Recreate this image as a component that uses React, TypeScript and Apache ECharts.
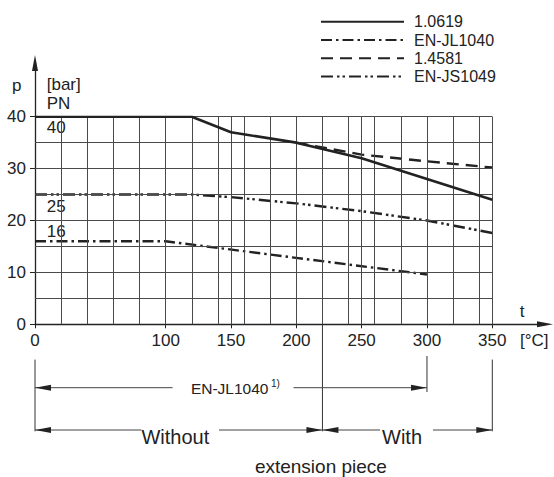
import React, { useEffect, useRef } from 'react';
import * as echarts from 'echarts';

// ---- data ----
const SERIES_NAMES = ['1.0619', 'EN-JL1040', '1.4581', 'EN-JS1049'];
const T_10619 = [0, 120, 150, 200, 250, 300, 350];
const P_10619 = [40, 40, 37, 35, 32, 28, 24];
const T_JL1040 = [0, 100, 200, 300];
const P_JL1040 = [16, 16, 12.8, 9.6];
const T_14581 = [200, 250, 300, 350];
const P_14581 = [35, 32.7, 31.4, 30.2];
const T_JS1049 = [0, 120, 150, 200, 250, 300, 350];
const P_JS1049 = [25, 25, 24.5, 23.3, 21.8, 20, 17.6];

const X_TICKS = [0, 100, 150, 200, 250, 300, 350];
const Y_TICKS = [0, 10, 20, 30, 40];
const GRID_T = [20, 40, 60, 80, 100, 120, 140, 150, 160, 180, 200, 220, 240, 250, 260, 280, 300, 320, 340, 350];
const GRID_P = [5, 10, 15, 20, 25, 30, 35, 40];
const PN_LABELS = ['40', '25', '16'];
const PN_VALUES = [40, 25, 16];

const FONT = '"Liberation Sans", Arial, sans-serif';
const INK = '#222';
const GRIDC = '#4a4a4a';

const pts = (t: number[], p: number[]) => t.map((v, i) => [v, p[i]]);

export default function App() {
  const ref = useRef<HTMLDivElement>(null);
  useEffect(() => {
    if (!ref.current) return;
    const chart = echarts.init(ref.current, undefined, { renderer: 'svg' });
    const lineBase = { type: 'line', symbol: 'none', showSymbol: false, silent: true, xAxisIndex: 0, yAxisIndex: 0 };
    const option: any = {
      animation: false,
      backgroundColor: '#fff',
      textStyle: { fontFamily: FONT },
      legend: {
        data: SERIES_NAMES,
        orient: 'vertical',
        left: 320,
        top: 12.7,
        padding: 0,
        itemWidth: 83,
        itemHeight: 14,
        itemGap: 0.3,
        selectedMode: false,
        itemStyle: { opacity: 0 },
        textStyle: { fontFamily: FONT, fontSize: 16, color: INK, lineHeight: 18, padding: [0, 0, 0, 5] },
      },
      grid: [
        { left: 35, top: 116.7, width: 457.3, height: 207.6 },
        { left: 35, top: 63, right: 9, bottom: 152.7 },
      ],
      xAxis: [
        {
          type: 'value', gridIndex: 0, min: 0, max: 350,
          axisLine: { show: false }, splitLine: { show: false },
          axisTick: { show: true, customValues: X_TICKS, length: 4, lineStyle: { color: INK, width: 1 } },
          axisLabel: { customValues: X_TICKS, fontSize: 17, color: INK, margin: 8, fontFamily: FONT },
        },
        {
          type: 'value', gridIndex: 1, min: 0, max: 1,
          axisLine: { show: true, symbol: ['none', 'triangle'], symbolSize: [6, 16], lineStyle: { color: INK, width: 1.3 } },
          axisTick: { show: false }, axisLabel: { show: false }, splitLine: { show: false },
        },
      ],
      yAxis: [
        {
          type: 'value', gridIndex: 0, min: 0, max: 40,
          axisLine: { show: false }, splitLine: { show: false },
          axisTick: { show: true, customValues: Y_TICKS, length: 5, lineStyle: { color: INK, width: 1 } },
          axisLabel: { customValues: Y_TICKS, fontSize: 17, color: INK, margin: 9, fontFamily: FONT },
        },
        {
          type: 'value', gridIndex: 1, min: 0, max: 1,
          axisLine: { show: true, symbol: ['none', 'triangle'], symbolSize: [6, 16], lineStyle: { color: INK, width: 1.3 } },
          axisTick: { show: false }, axisLabel: { show: false }, splitLine: { show: false },
        },
      ],
      series: [
        {
          ...lineBase, name: 'gridlines', data: [], z: 1,
          markLine: {
            silent: true, symbol: ['none', 'none'], label: { show: false },
            lineStyle: { color: GRIDC, width: 1, type: 'solid' },
            emphasis: { disabled: true },
            data: [...GRID_T.map((v) => ({ xAxis: v })), ...GRID_P.map((v) => ({ yAxis: v }))],
          },
        },
        {
          ...lineBase, name: SERIES_NAMES[1], data: pts(T_JL1040, P_JL1040), z: 3,
          itemStyle: { color: INK },
          lineStyle: { color: INK, width: 2.4, type: [11, 4, 2.5, 4], cap: 'butt' },
        },
        {
          ...lineBase, name: SERIES_NAMES[2], data: pts(T_14581, P_14581), z: 3,
          itemStyle: { color: INK },
          lineStyle: { color: INK, width: 2.4, type: [12, 7], cap: 'butt' },
        },
        {
          ...lineBase, name: SERIES_NAMES[3], data: pts(T_JS1049, P_JS1049), z: 3,
          itemStyle: { color: INK },
          lineStyle: { color: INK, width: 2.4, type: [12, 4, 2.5, 3, 2.5, 4], cap: 'butt' },
        },
        {
          ...lineBase, name: SERIES_NAMES[0], data: pts(T_10619, P_10619), z: 5,
          itemStyle: { color: INK },
          lineStyle: { color: INK, width: 2.6, type: 'solid', cap: 'butt' },
        },
      ],
    };
    chart.setOption(option);

    const px = (t: number) => chart.convertToPixel({ xAxisIndex: 0 }, t) as unknown as number;
    const py = (p: number) => chart.convertToPixel({ yAxisIndex: 0 }, p) as unknown as number;

    const txt = (x: number, y: number, text: string, size: number, align = 'left') => ({
      type: 'text', x, y, silent: true,
      style: { text, fill: INK, font: `${size}px ${FONT}`, textAlign: align, textVerticalAlign: 'middle' },
    });
    const ln = (x1: number, y1: number, x2: number, y2: number, color = '#333') => ({
      type: 'line', silent: true, shape: { x1, y1, x2, y2 }, style: { stroke: color, lineWidth: 1 },
    });
    const head = (x: number, y: number, dir: number) => ({
      type: 'polygon', silent: true,
      shape: { points: [[x, y], [x - dir * 16, y - 3], [x - dir * 16, y + 3]] },
      style: { fill: INK },
    });

    const x0 = px(0), x220 = px(220), x300 = px(300), x350 = px(350);
    const yA1 = 387.7, yA2 = 430;
    const g: any[] = [
      // axis captions
      txt(16.7, 85, 'p', 17, 'center'),
      txt(46.7, 84, '[bar]', 17),
      txt(46.7, 103.3, 'PN', 17),
      txt(46.7, py(PN_VALUES[0]) + 11, PN_LABELS[0], 17),
      txt(46.7, py(PN_VALUES[1]) + 11.5, PN_LABELS[1], 17),
      txt(46.7, py(PN_VALUES[2]) - 10, PN_LABELS[2], 17),
      txt(522, 311, 't', 17, 'center'),
      txt(520, 340.5, '[°C]', 17),
      // bracket verticals
      ln(x0, 359.6, x0, 431.3),
      ln(x220, py(0), x220, 431.3),
      ln(x300, 356, x300, 392),
      ln(x350, 359.6, x350, 431.3),
      // EN-JL1040 range
      ln(x0, yA1, 172.6, yA1, '#444'),
      ln(293.5, yA1, x300, yA1, '#444'),
      head(x0, yA1, -1),
      head(x300, yA1, 1),
      txt(190.9, 388, 'EN-JL1040', 15.5),
      txt(271, 383, '1)', 10),
      // Without
      ln(x0, yA2, 141.4, yA2, '#444'),
      ln(219, yA2, x220, yA2, '#444'),
      head(x0, yA2, -1),
      head(x220, yA2, 1),
      txt(141.4, 437, 'Without', 20),
      // With
      ln(x220, yA2, 380, yA2, '#444'),
      ln(433, yA2, x350, yA2, '#444'),
      head(x220, yA2, -1),
      head(x350, yA2, 1),
      txt(382, 437, 'With', 20),
      txt(320.9, 466, 'extension piece', 19, 'center'),
    ];
    chart.setOption({ graphic: g });

    return () => chart.dispose();
  }, []);
  return (
    <div
      ref={ref}
      style={{ position: 'fixed', left: 0, top: 0, width: 554, height: 477, background: '#fff' }}
    />
  );
}
